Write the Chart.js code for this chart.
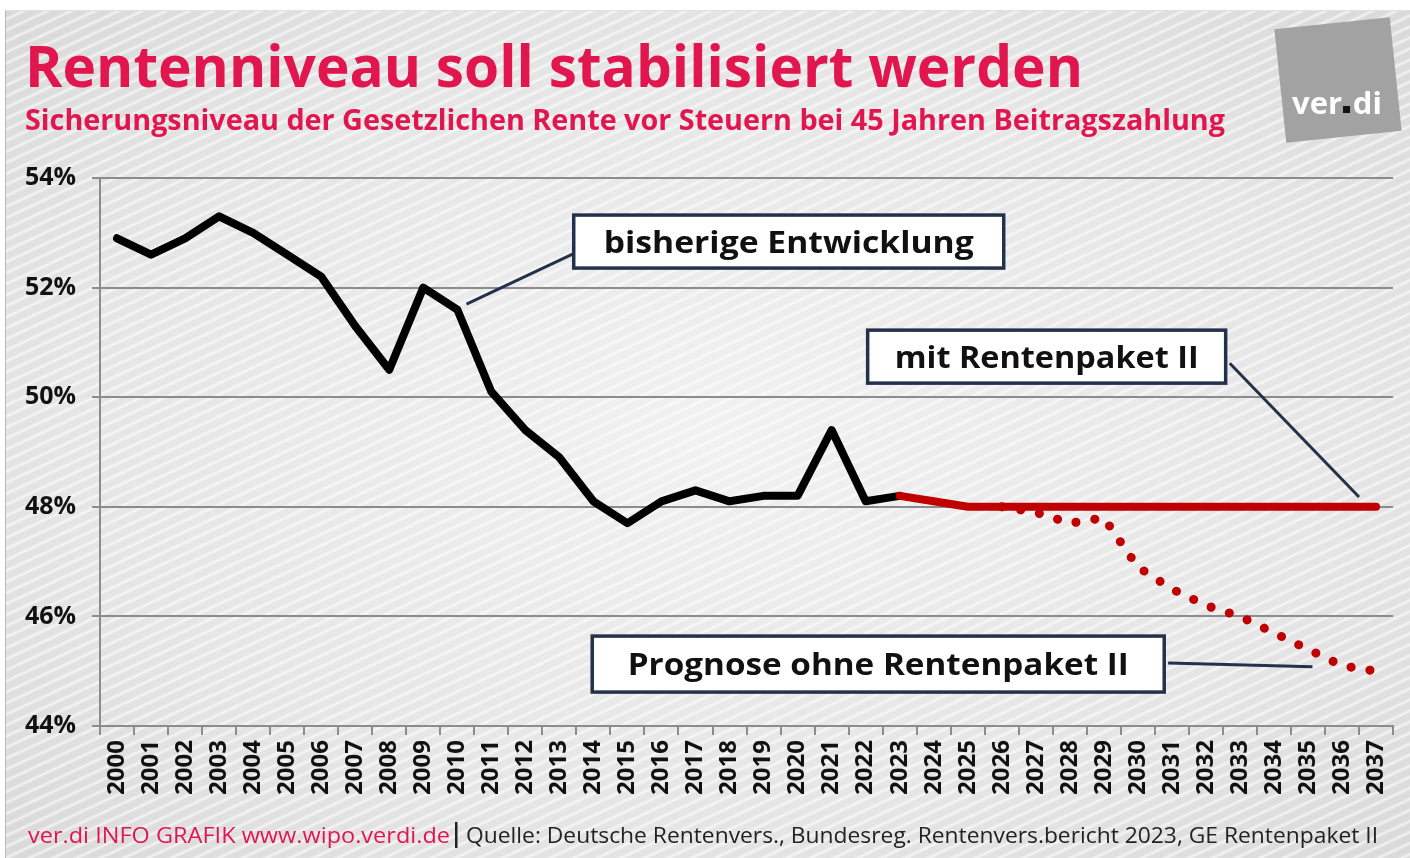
<!DOCTYPE html>
<html>
<head>
<meta charset="utf-8">
<script src="https://cdn.jsdelivr.net/npm/chart.js@4.4.1/dist/chart.umd.min.js"></script>
<style>
    html, body { margin: 0; padding: 0; background: #fff; }
    #panel {
        position: absolute; left: 5px; top: 10px; width: 1405px; height: 848px;
        border-left: 1px solid #b8b8b8; border-top: 1px solid #e0e0e0;
        background:
            repeating-linear-gradient(155deg, rgba(255,255,255,0) 0px, rgba(255,255,255,0) 5px, rgba(255,255,255,0.65) 7.5px, rgba(255,255,255,0) 10px),
            radial-gradient(ellipse at 50% 50%, #f1f1f1 0%, #e5e5e5 65%, #d9d9d9 100%);
    }
    #chart { position: absolute; left: 0; top: 0; }
</style>
</head>
<body>
<div id="panel"></div>
<canvas id="chart" width="1410" height="858"></canvas>
<script>
// Jahre (Kategorien)
const years = ["2000", "2001", "2002", "2003", "2004", "2005", "2006", "2007", "2008", "2009",
    "2010", "2011", "2012", "2013", "2014", "2015", "2016", "2017", "2018", "2019",
    "2020", "2021", "2022", "2023", "2024", "2025", "2026", "2027", "2028", "2029",
    "2030", "2031", "2032", "2033", "2034", "2035", "2036", "2037"];

// bisherige Entwicklung 2000-2023
const bisher = [52.9, 52.6, 52.9, 53.3, 53.0, 52.6, 52.2, 51.3, 50.5, 52.0,
    51.6, 50.1, 49.4, 48.9, 48.1, 47.7, 48.1, 48.3, 48.1, 48.2,
    48.2, 49.4, 48.1, 48.2];

// mit Rentenpaket II, 2023-2037
const mitPaket = [48.2, 48.1, 48.0, 48.0, 48.0, 48.0, 48.0, 48.0, 48.0, 48.0, 48.0, 48.0, 48.0, 48.0, 48.0];

// Prognose ohne Rentenpaket II, 2026-2037
const ohnePaket = [48.0, 47.9, 47.7, 47.8, 46.9, 46.5, 46.2, 46.0, 45.7, 45.4, 45.1, 45.0];

// y-Achse
const yTicks = [44, 46, 48, 50, 52, 54];

const RED = "#e2164f";
const NAVY = "#23324a";
const GRID = "#8c8c8c";
const FONT = "'Open Sans', 'Noto Sans', sans-serif";

// Reihen auf die volle Länge der Jahre bringen
function pad(values, startYear) {
    const out = years.map(() => null);
    const start = years.indexOf(startYear);
    values.forEach((v, i) => { out[start + i] = v; });
    return out;
}

// Text so zeichnen, dass er eine bestimmte Breite hat
function drawFitted(ctx, text, x, y, font, width, color) {
    ctx.save();
    ctx.font = font;
    const w = ctx.measureText(text).width;
    ctx.translate(x, y);
    ctx.scale(width / w, 1);
    ctx.fillStyle = color;
    ctx.textBaseline = "alphabetic";
    ctx.textAlign = "left";
    ctx.fillText(text, 0, 0);
    ctx.restore();
}

// Beschriftungskästen (Lage in Datenkoordinaten: x = Jahresindex, y = Prozent)
const labels = [
    { text: "bisherige Entwicklung", cx: 19.74, cy: 52.84, w: 430, h: 53, tw: 370, line: [[10.27, 51.70], [13.45, 52.63]] },
    { text: "mit Rentenpaket II", cx: 27.32, cy: 50.74, w: 358, h: 53, tw: 304, line: [[32.70, 50.62], [36.50, 48.18]] },
    { text: "Prognose ohne Rentenpaket II", cx: 22.37, cy: 45.13, w: 572, h: 56, tw: 501, line: [[30.89, 45.15], [35.13, 45.08]] }
];

const decor = {
    id: "decor",
    afterDatasetsDraw(chart) {
        const ctx = chart.ctx;
        const xs = chart.scales.x, ys = chart.scales.y;

        labels.forEach(l => {
            const [a, b] = l.line;
            ctx.save();
            ctx.strokeStyle = NAVY;
            ctx.lineWidth = 3;
            ctx.beginPath();
            ctx.moveTo(xs.getPixelForValue(a[0]), ys.getPixelForValue(a[1]));
            ctx.lineTo(xs.getPixelForValue(b[0]), ys.getPixelForValue(b[1]));
            ctx.stroke();

            const cx = xs.getPixelForValue(l.cx), cy = ys.getPixelForValue(l.cy);
            const x0 = cx - l.w / 2, y0 = cy - l.h / 2;
            ctx.fillStyle = "#fff";
            ctx.fillRect(x0, y0, l.w, l.h);
            ctx.lineWidth = 3.5;
            ctx.strokeStyle = NAVY;
            ctx.strokeRect(x0, y0, l.w, l.h);
            ctx.restore();

            drawFitted(ctx, l.text, x0 + (l.w - l.tw) / 2, cy + 11, "bold 31px " + FONT, l.tw, "#111");
        });
    },
    afterDraw(chart) {
        const ctx = chart.ctx;

        // Titel
        drawFitted(ctx, "Rentenniveau soll stabilisiert werden", 25, 87, "bold 57px " + FONT, 1058, RED);
        drawFitted(ctx, "Sicherungsniveau der Gesetzlichen Rente vor Steuern bei 45 Jahren Beitragszahlung",
            25, 130, "bold 28px " + FONT, 1200, RED);

        // Fußzeile
        drawFitted(ctx, "ver.di INFO GRAFIK www.wipo.verdi.de", 28, 843, "22px " + FONT, 422, RED);
        ctx.fillStyle = "#222";
        ctx.fillRect(455, 822, 2.5, 26);
        drawFitted(ctx, "Quelle: Deutsche Rentenvers., Bundesreg. Rentenvers.bericht 2023, GE Rentenpaket II",
            466, 843, "22px " + FONT, 912, "#222");

        // Logo
        ctx.save();
        ctx.translate(1338, 80);
        ctx.rotate(-6 * Math.PI / 180);
        ctx.fillStyle = "#a2a2a2";
        ctx.fillRect(-58, -57, 116, 114);
        ctx.restore();
        ctx.save();
        ctx.font = "bold 31px " + FONT;
        const wv = ctx.measureText("ver").width, wd = ctx.measureText(".").width;
        ctx.fillStyle = "#fff";
        ctx.fillText("ver", 1292, 114);
        ctx.fillStyle = "#111";
        ctx.fillRect(1292 + wv + 1, 106, 7, 7);
        ctx.fillStyle = "#fff";
        ctx.fillText("di", 1292 + wv + wd + 2, 114);
        ctx.restore();
    }
};

new Chart(document.getElementById("chart"), {
    type: "line",
    data: {
        labels: years,
        datasets: [
            {
                label: "mit Rentenpaket II",
                data: pad(mitPaket, "2023"),
                borderColor: "#c00000",
                borderWidth: 8,
                borderCapStyle: "round",
                borderJoinStyle: "round",
                pointRadius: 0,
                tension: 0
            },
            {
                label: "bisherige Entwicklung",
                data: pad(bisher, "2000"),
                borderColor: "#000",
                borderWidth: 8,
                borderCapStyle: "round",
                borderJoinStyle: "round",
                pointRadius: 0,
                tension: 0
            },
            {
                label: "Prognose ohne Rentenpaket II",
                data: pad(ohnePaket, "2026"),
                borderColor: "#c00000",
                borderWidth: 9,
                borderDash: [0.1, 19],
                borderCapStyle: "round",
                pointRadius: 0,
                tension: 0
            }
        ]
    },
    options: {
        responsive: false,
        animation: false,
        devicePixelRatio: 1,
        layout: { padding: { top: 178, right: 11, left: 0, bottom: 0 } },
        plugins: { legend: { display: false }, tooltip: { enabled: false } },
        scales: {
            x: {
                offset: true,
                grid: { offset: true, drawOnChartArea: false, tickLength: 9, color: GRID, lineWidth: 2 },
                border: { color: GRID, width: 2 },
                ticks: {
                    autoSkip: false, minRotation: 90, maxRotation: 90, padding: 5, color: "#111",
                    font: { family: FONT, weight: "bold", size: 24 }
                },
                afterFit: s => { s.height = 132; }
            },
            y: {
                min: 44, max: 54,
                afterBuildTicks: s => { s.ticks = yTicks.map(v => ({ value: v })); },
                grid: { color: GRID, lineWidth: 2, tickLength: 8 },
                border: { color: GRID, width: 2 },
                ticks: {
                    padding: 16, color: "#111",
                    font: { family: FONT, weight: "bold", size: 25 },
                    callback: v => v + "%"
                },
                afterFit: s => { s.width = 100; }
            }
        }
    },
    plugins: [decor]
});
</script>
</body>
</html>
